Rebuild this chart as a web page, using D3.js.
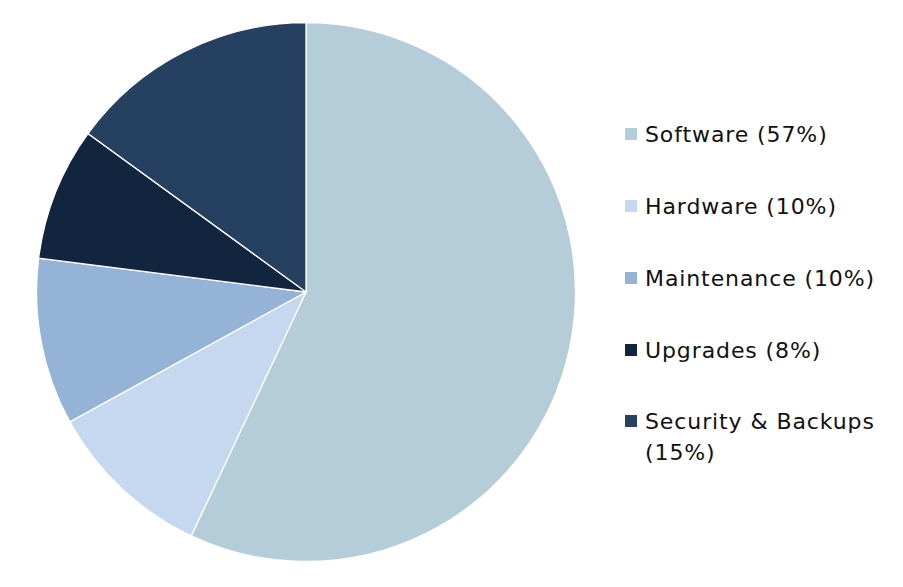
<!DOCTYPE html>
<html><head><meta charset="utf-8">
<script src="https://cdn.jsdelivr.net/npm/d3@7"></script>
<style>body{margin:0;background:#fff}svg{display:block}</style>
</head><body>
<script>
const categories = ["Software", "Hardware", "Maintenance", "Upgrades", "Security & Backups"];
const values = [57, 10, 10, 8, 15];
const labels = [["Software (57%)"], ["Hardware (10%)"], ["Maintenance (10%)"], ["Upgrades (8%)"], ["Security & Backups", "(15%)"]];
const colors = ["#b5cdd8", "#c6d8ef", "#95b3d7", "#12253f", "#254061"];

const W = 903, H = 587;
const svg = d3.select("body").append("svg").attr("width", W).attr("height", H);
const cx = 306, cy = 292, r = 269.5;

const pie = d3.pie().sort(null).value(d => d)(values);
const arc = d3.arc().innerRadius(0).outerRadius(r);
const g = svg.append("g").attr("transform", `translate(${cx},${cy})`);
g.selectAll("path").data(pie).join("path")
  .attr("d", arc)
  .attr("fill", (d, i) => colors[i])
  .attr("stroke", "#fff").attr("stroke-width", 1.3);

const lg = svg.append("g");
const rowY = [134, 206, 278, 350, 421];
categories.forEach((c, i) => {
  lg.append("rect").attr("x", 625).attr("y", rowY[i] - 6).attr("width", 12).attr("height", 12).attr("fill", colors[i]);
  const t = lg.append("text").attr("x", 645).attr("y", rowY[i])
    .attr("font-family", "DejaVu Sans").attr("font-size", 22)
    .attr("letter-spacing", 0.9).attr("fill", "#111");
  labels[i].forEach((l, j) => {
    t.append("tspan").attr("x", 645).attr("dy", j === 0 ? "0.36em" : 31).text(l);
  });
});
</script>
</body></html>
